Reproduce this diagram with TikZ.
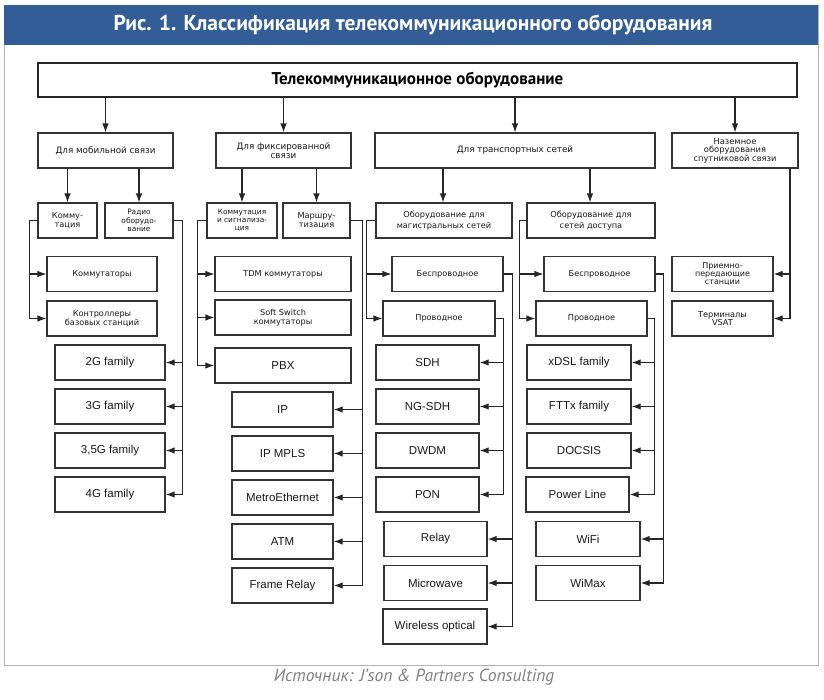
\documentclass[tikz,border=0pt]{standalone}
\usepackage{fontspec}
\setmainfont{DejaVu Sans}
\newfontfamily\leaffont{Liberation Sans}
\newfontfamily\headfont{PT Sans}
\usepackage{tikz}
\usepackage{color}
\definecolor{bandblue}{RGB}{50,93,150}
\usetikzlibrary{shapes,arrows.meta,positioning}

\begin{document}
\begin{tikzpicture}[x=1pt, y=-1pt, >={Latex[length=9pt,width=6.5pt]}, node distance=44pt, font=\fontsize{8.2}{8.8}\selectfont]
  \tikzstyle{box}=[draw=black!80, line width=1.1pt, inner sep=0pt, align=center, text=black!90, minimum height=35pt]
  \tikzstyle{group}=[box, font=\fontsize{8.8}{9.4}\selectfont]
  \tikzstyle{leaf}=[box, line width=1.4pt, font=\leaffont\fontsize{11.5}{12}\selectfont]
  \tikzstyle{link}=[->, draw=black!85, line width=1.1pt]
  \useasboundingbox[fill=white] (0,0) rectangle (824,699);
  % frame and heading
  \draw[gray!60, line width=0.8pt] (4,5) rectangle (818,665);
  \fill[bandblue] (4,5) rectangle (818,45);
  \node[text=white, font=\headfont\bfseries\fontsize{21.5}{24}\selectfont] (title) at (413,25) {Рис. 1. Классификация телекоммуникационного оборудования};
  \node[text=gray, font=\headfont\itshape\fontsize{17.5}{19}\selectfont] (source) at (414,677) {Источник: J’son \& Partners Consulting};

  \node[draw=black!85, line width=2.6pt, minimum width=759pt, minimum height=34pt, font=\headfont\bfseries\fontsize{17}{19}\selectfont] (telecom) at (417.5,80) {Телекоммуникационное оборудование};

  % second level
  \node[group, minimum width=135pt] (mob) at (105.5,150.5) {Для мобильной связи};
  \node[group, minimum width=135pt] (fix) at (283.5,150.5) {Для фиксированной\\связи};
  \node[group, minimum width=280pt] (trans) at (515,150.5) {Для транспортных сетей};
  \node[group, minimum width=126pt, font=\fontsize{8.3}{8.6}\selectfont] (sat) at (735,150.5) {Наземное\\оборудования\\спутниковой связи};

  % third level
  \node[box, minimum width=59pt] (komm) at (67.5,220.5) {Комму-\\тация};
  \node[box, minimum width=68pt, font=\fontsize{7.4}{8.3}\selectfont] (radio) at (139,220.5) {Радио\\оборудо-\\вание};
  \node[box, minimum width=70pt, font=\fontsize{7.4}{8.3}\selectfont] (ksig) at (242,220.5) {Коммутация\\и сигнализа-\\ция};
  \node[box, minimum width=67pt] (marsh) at (316.5,220.5) {Маршру-\\тизация};
  \node[box, minimum width=136pt, font=\fontsize{8.2}{11.5}\selectfont] (magis) at (444,220.5) {Оборудование для\\магистральных сетей};
  \node[box, minimum width=128pt, font=\fontsize{8.2}{11.5}\selectfont] (dost) at (591,220.5) {Оборудование для\\сетей доступа};

  % fourth level
  \node[box, minimum width=110pt] (switches) at (102,274) {Коммутаторы};
  \node[box, minimum width=110pt] (bsc) at (102,318.5) {Контроллеры\\базовых станций};
  \node[box, minimum width=136pt] (tdm) at (283,274) {TDM коммутаторы};
  \node[box, minimum width=136pt] (soft) at (283,317.5) {Soft Switch\\коммутаторы};
  \node[box, minimum width=111pt] (mwless) at (447.5,274) {Беспроводное};
  \node[box, minimum width=112pt] (mwired) at (439,318.5) {Проводное};
  \node[box, minimum width=111pt] (awless) at (599.5,274) {Беспроводное};
  \node[box, minimum width=111pt] (awired) at (591.5,318.5) {Проводное};
  \node[box, minimum width=101pt, font=\fontsize{8}{8.3}\selectfont] (trx) at (722.5,274) {Приемно-\\передающие\\станции};
  \node[box, minimum width=101pt] (vsat) at (722.5,318.5) {Терминалы\\VSAT};

  % leaves
  \node[leaf, minimum width=110pt] (g2) at (110,362.5) {2G family};
  \node[leaf, minimum width=110pt] (g3) [below of=g2] {3G family};
  \node[leaf, minimum width=110pt] (g35) [below of=g3] {3,5G family};
  \node[leaf, minimum width=110pt] (g4) [below of=g35] {4G family};

  \node[leaf, minimum width=136pt] (pbx) at (283,365.5) {PBX};
  \node[leaf, minimum width=101pt] (ip) at (282.5,409.5) {IP};
  \node[leaf, minimum width=101pt] (mpls) [below of=ip] {IP MPLS};
  \node[leaf, minimum width=101pt] (metro) [below of=mpls] {MetroEthernet};
  \node[leaf, minimum width=101pt] (atm) [below of=metro] {ATM};
  \node[leaf, minimum width=101pt] (frame) [below of=atm] {Frame Relay};

  \node[leaf, minimum width=103pt] (sdh) at (427.5,362.5) {SDH};
  \node[leaf, minimum width=103pt] (ngsdh) [below of=sdh] {NG-SDH};
  \node[leaf, minimum width=103pt] (dwdm) [below of=ngsdh] {DWDM};
  \node[leaf, minimum width=103pt] (pon) [below of=dwdm] {PON};
  \node[leaf, minimum width=103pt] (relay) at (435.5,539) {Relay};
  \node[leaf, minimum width=103pt] (micro) [below of=relay] {Microwave};
  \node[leaf, minimum width=104pt] (wopt) at (435,626.5) {Wireless optical};

  \node[leaf, minimum width=104pt] (xdsl) at (579,362.5) {xDSL family};
  \node[leaf, minimum width=104pt] (fttx) [below of=xdsl] {FTTx family};
  \node[leaf, minimum width=104pt] (docsis) [below of=fttx] {DOCSIS};
  \node[leaf, minimum width=103pt] (plc) at (577.5,494.5) {Power Line};
  \node[leaf, minimum width=104pt] (wifi) at (588,539) {WiFi};
  \node[leaf, minimum width=104pt] (wimax) [below of=wifi] {WiMax};

  % connectors
  \path (mob |- telecom.south) edge[link] (mob)
        (fix |- telecom.south) edge[link] (fix)
        (trans |- telecom.south) edge[link] (trans)
        (sat |- telecom.south) edge[link] (sat)
        (komm |- mob.south) edge[link] (komm)
        (radio |- mob.south) edge[link] (radio)
        (ksig |- fix.south) edge[link] (ksig)
        (marsh |- fix.south) edge[link] (marsh)
        ([xshift=-72pt]trans.south) edge[link] ([xshift=-72pt]trans.south |- magis.north)
        ([xshift=75pt]trans.south) edge[link] ([xshift=75pt]trans.south |- dost.north);
  \draw[link] (komm.west) -- ++(-8,0) |- (switches.west);
  \draw[link] (komm.west) -- ++(-8,0) |- (bsc.west);
  \foreach \n in {g2,g3,g35,g4}
    \draw[link] (radio.east) -- ++(9,0) |- (\n.east);
  \foreach \n in {tdm,soft,pbx}
    \draw[link] (ksig.west) -- ++(-9,0) |- (\n.west);
  \foreach \n in {ip,mpls,metro,atm,frame}
    \draw[link] (marsh.east) -- ++(12,0) |- (\n.east);
  \foreach \n in {mwless,mwired}
    \draw[link] (magis.west) -- ++(-9,0) |- (\n.west);
  \foreach \n in {relay,micro,wopt}
    \draw[link] (mwless.east) -- ++(9,0) |- (\n.east);
  \foreach \n in {sdh,ngsdh,dwdm,pon}
    \draw[link] (mwired.east) -- ++(8,0) |- (\n.east);
  \foreach \n in {awless,awired}
    \draw[link] (dost.west) -- ++(-7,0) |- (\n.west);
  \foreach \n in {wifi,wimax}
    \draw[link] (awless.east) -- ++(8,0) |- (\n.east);
  \foreach \n in {xdsl,fttx,docsis,plc}
    \draw[link] (awired.east) -- ++(7,0) |- (\n.east);
  \foreach \n in {trx,vsat}
    \draw[link] ([xshift=55pt]sat.south) |- (\n.east);
\end{tikzpicture}
\end{document}
